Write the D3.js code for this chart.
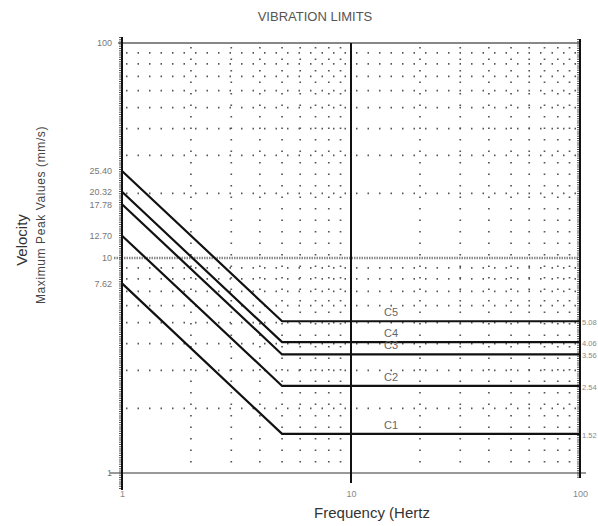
<!DOCTYPE html>
<html>
<head>
<meta charset="utf-8">
<script src="https://cdn.jsdelivr.net/npm/d3@7"></script>
<style>
  body { margin: 0; background: #fff; }
  svg { font-family: "Liberation Sans", Arial, sans-serif; }
</style>
</head>
<body>
<svg id="chart" width="598" height="526"></svg>
<script>
// limit curves: constant displacement up to knee, then constant velocity
const seriesNames = ["C5", "C4", "C3", "C2", "C1"];
const startVel = [25.40, 20.32, 17.78, 12.70, 7.62];   // mm/s at 1 Hz
const kneeFreq = [5, 5, 5, 5, 5];                       // Hz
const plateauVel = [5.08, 4.06, 3.56, 2.54, 1.52];     // mm/s
const freqRange = [1, 100];
const velRange = [1, 100];
const yTickVals = [100, 25.40, 20.32, 17.78, 12.70, 10, 7.62, 1];
const xTickVals = [1, 10, 100];
const minorVals = [2, 3, 4, 5, 6, 7, 8, 9, 20, 30, 40, 50, 60, 70, 80, 90];

const svg = d3.select("#chart");
const x = d3.scaleLog().domain(freqRange).range([122, 580]);
const y = d3.scaleLog().domain(velRange).range([473, 43]);

//dotted grid
const grid = svg.append("g").attr("stroke", "#555").attr("stroke-width", 1.7)
  .attr("stroke-dasharray", "1.5,10");
grid.selectAll(".gx").data(minorVals).join("line")
  .attr("x1", d => x(d)).attr("x2", d => x(d))
  .attr("y1", y(100) + 4).attr("y2", y(1));
grid.selectAll(".gy").data(minorVals).join("line")
  .attr("y1", d => y(d)).attr("y2", d => y(d))
  .attr("x1", x(1) + 4).attr("x2", x(100));

// frame lines
svg.append("line").attr("x1", 118).attr("x2", x(100)).attr("y1", y(100)).attr("y2", y(100))
  .attr("stroke", "#888").attr("stroke-width", 2);
svg.append("line").attr("x1", 110).attr("x2", 586).attr("y1", y(1)).attr("y2", y(1))
  .attr("stroke", "#999").attr("stroke-width", 2);
svg.append("line").attr("x1", 114).attr("x2", x(100)).attr("y1", y(10)).attr("y2", y(10))
  .attr("stroke", "#888").attr("stroke-width", 2.5).attr("stroke-dasharray", "1.5,1");
svg.append("line").attr("x1", x(10)).attr("x2", x(10)).attr("y1", y(100)).attr("y2", y(1) + 10)
  .attr("stroke", "#111").attr("stroke-width", 2);

// comb-like axes
function combAxis(xpos, y1, y2, side) {
  svg.append("line").attr("x1", xpos + side * 1.5).attr("x2", xpos + side * 1.5)
    .attr("y1", y1).attr("y2", y2)
    .attr("stroke", "#555").attr("stroke-width", 3).attr("stroke-dasharray", "1,1.2");
  svg.append("line").attr("x1", xpos).attr("x2", xpos).attr("y1", y1).attr("y2", y2)
    .attr("stroke", "#111").attr("stroke-width", 2);
}
combAxis(x(1), y(100) - 6, y(1) + 17, -1);
combAxis(x(100), y(100) - 4, y(1) + 5, -1);

// y axis labels
const yAxis = d3.axisLeft(y).tickValues(yTickVals).tickSize(0).tickPadding(10)
  .tickFormat(d => (d === 1 || d === 10 || d === 100) ? d3.format("d")(d) : d3.format(".2f")(d));
const gy = svg.append("g").attr("transform", `translate(${x(1)},0)`).call(yAxis);
gy.select(".domain").remove();
gy.selectAll("text").attr("fill", "#777").attr("font-size", 9);

// x axis labels
const xAxis = d3.axisBottom(x).tickValues(xTickVals).tickSize(0).tickPadding(18)
  .tickFormat(d3.format("d"));
const gx = svg.append("g").attr("transform", `translate(0,${y(1)})`).call(xAxis);
gx.select(".domain").remove();
gx.selectAll("text").attr("fill", "#888").attr("font-size", 9);

// limit lines
const seriesData = seriesNames.map((name, i) => ({
  name,
  pts: [[freqRange[0], startVel[i]], [kneeFreq[i], plateauVel[i]], [freqRange[1], plateauVel[i]]]
}));
const line = d3.line().x(d => x(d[0])).y(d => y(d[1]));
svg.append("g").selectAll("path").data(seriesData).join("path")
  .attr("d", d => line(d.pts))
  .attr("fill", "none").attr("stroke", "#111").attr("stroke-width", 2.2);

// curve names
svg.append("g").selectAll("text").data(seriesData).join("text")
  .attr("x", 384).attr("y", d => y(d.pts[2][1]) - 5)
  .attr("fill", "#666").attr("font-size", 11)
  .text(d => d.name);

// right-hand values
svg.append("g").selectAll("text").data(plateauVel).join("text")
  .attr("x", 582).attr("y", d => y(d) + 4)
  .attr("fill", "#888").attr("font-size", 7.5)
  .text(d => d3.format(".2f")(d));

// titles
svg.append("text").attr("x", 315).attr("y", 21).attr("text-anchor", "middle")
  .attr("font-size", 13).attr("fill", "#555").text("VIBRATION LIMITS");
svg.append("text").attr("x", 372).attr("y", 518).attr("text-anchor", "middle")
  .attr("font-size", 15).attr("fill", "#333").text("Frequency  (Hertz");
svg.append("text").attr("transform", "translate(27,240) rotate(-90)").attr("text-anchor", "middle")
  .attr("font-size", 15).attr("fill", "#333").text("Velocity");
svg.append("text").attr("transform", "translate(45,215) rotate(-90)").attr("text-anchor", "middle")
  .attr("font-size", 12).attr("fill", "#444").attr("letter-spacing", 0.6)
  .text("Maximum Peak Values (mm/s)");
</script>
</body>
</html>
